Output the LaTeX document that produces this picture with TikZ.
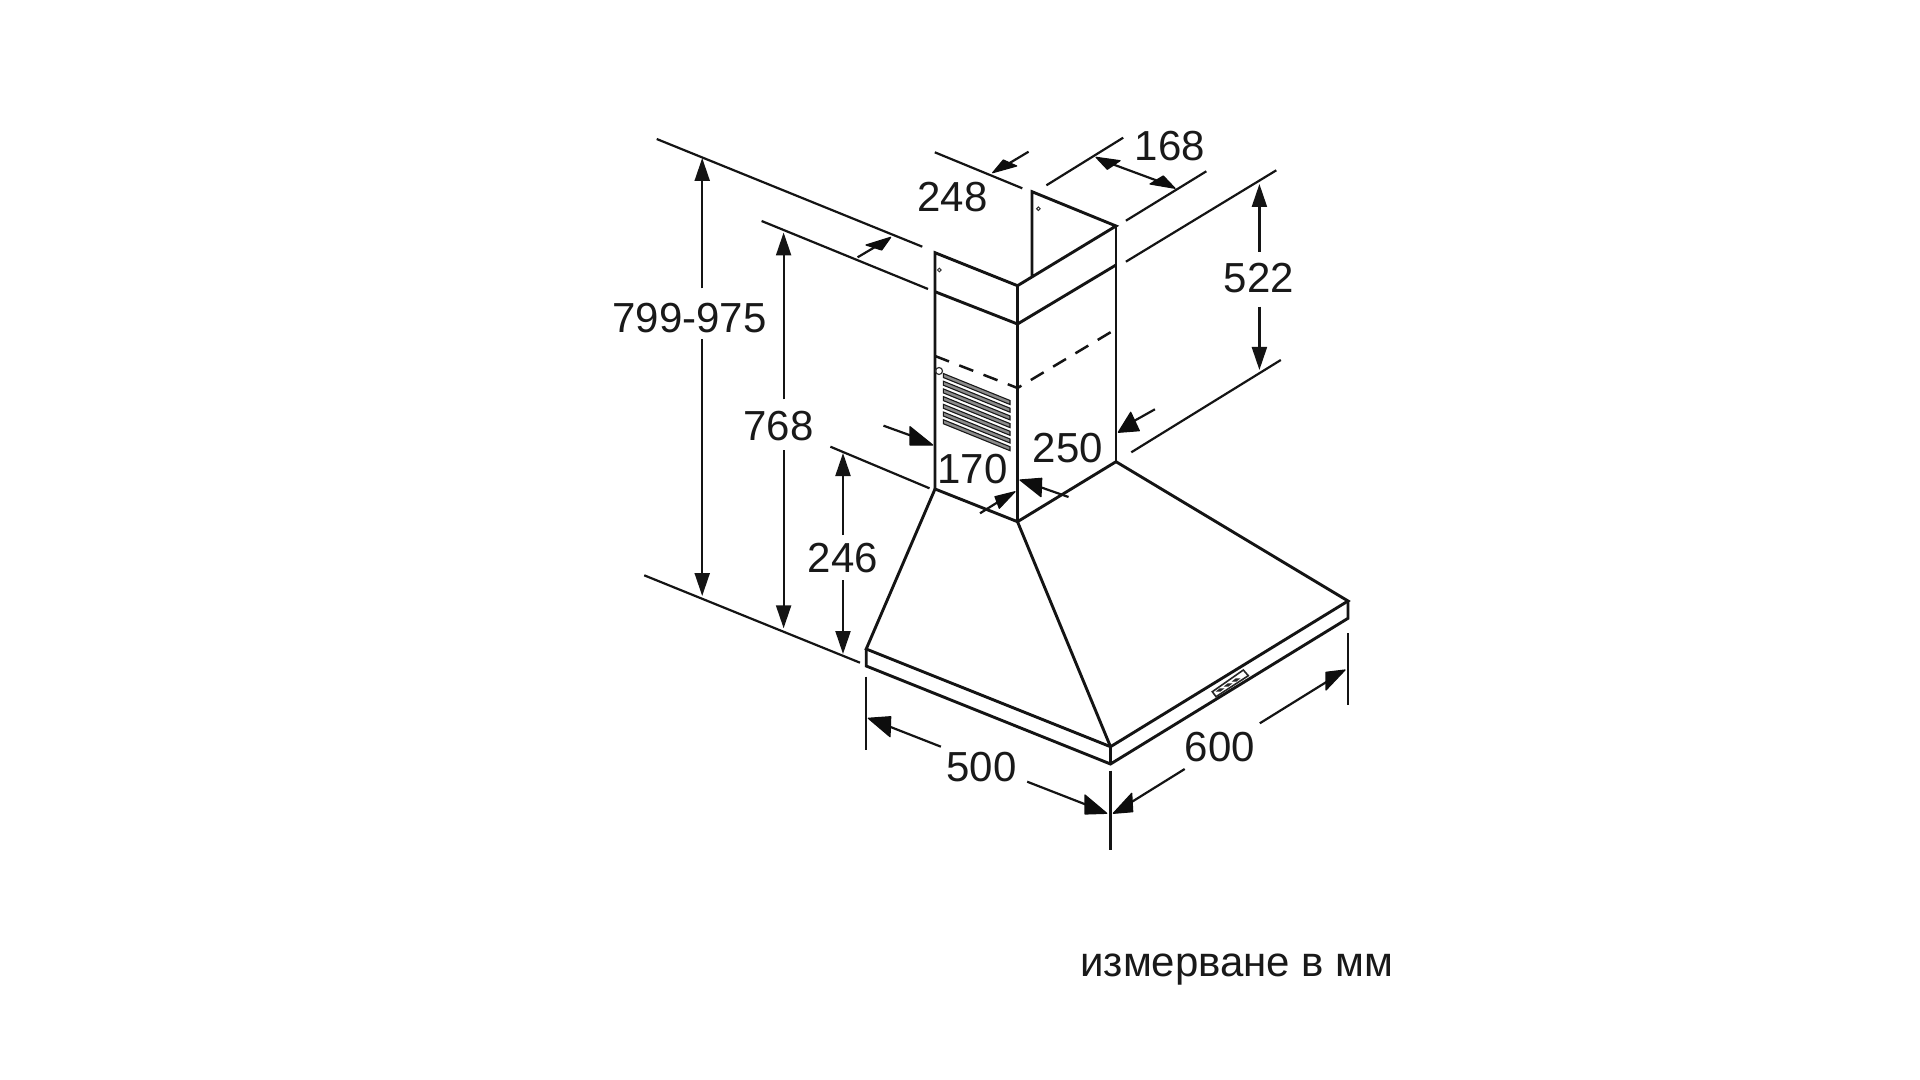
\documentclass[tikz,border=0pt]{standalone}
\usepackage{fontspec}
\setmainfont{Liberation Sans}
\usetikzlibrary{arrows.meta}
\tikzset{
  body/.style={line width=1.45pt,black!92,line join=miter},
  thin body/.style={line width=0.5pt,black!80},
  dim/.style={line width=1.1pt,black!92},
  arr/.style={dim,-{Triangle[length=11.5pt,width=7.5pt]}},
  headfill/.style={fill=black!95,draw=black!95,line width=0.6pt,line join=round},
  slat/.style={fill=black!45,draw=black!90,line width=0.55pt},
  lab/.style={inner sep=0pt,font=\fontsize{21}{24}\selectfont,text=black!90},
  note/.style={inner sep=0pt,font=\fontsize{21}{24}\selectfont,text=black!90}
}
\begin{document}
\begin{tikzpicture}[x=0.5pt,y=-0.5pt]
\useasboundingbox[fill=white] (0,0) rectangle (1920,1080);
% duct
\draw[body] (935,489) -- (935,252.7) -- (1017.5,285.7) -- (1116,226) -- (1032,191.7) -- (1032,275.7);
\draw[body] (1017.5,285.7) -- (1017.5,521.7);
\draw[body] (1116,226) -- (1116,461.7);
\draw[body] (935,291.7) -- (1017.5,324) -- (1116,265);
\draw[body,line width=1.25pt,dash pattern=on 7.5pt off 5.5pt] (935,356) -- (1017.5,388) -- (1116,329);
\draw[thin body] (939.3,270) circle (1.8);
\draw[thin body] (1038.4,208.7) circle (1.8);
\draw[line width=0.6pt,black!80] (939,371) circle (3.5);
% grille
\foreach \i in {0,...,6} {
  \draw[slat] (943.3,373.5+\i*7.7) -- (1010,400.5+\i*7.7) -- (1010,404.5+\i*7.7) -- (943.3,377.5+\i*7.7) -- cycle;
}
% hood
\draw[body] (935,489) -- (1017.5,521.7) -- (1116,461.7) -- (1348,601) -- (1110.5,746.7) -- (866.2,649) -- cycle;
\draw[body] (1017.5,521.7) -- (1110.5,746.7);
\draw[body] (866.2,649) -- (866.2,666) -- (1110.5,764) -- (1348,618.3) -- (1348,601);
\draw[body] (1110.5,746.7) -- (1110.5,764);
% panel
\draw[line width=0.8pt,black!85] (1212.3,691.7) -- (1243.3,670) -- (1248.3,675.7) -- (1216,696.7) -- cycle;
\foreach \p in {(1220,690),(1228,685),(1236,680)} {
  \draw[line width=0.7pt,black!85,shift={\p}] (-2.5,1) -- (0,-1) -- (2.5,-1) -- (0,1) -- cycle;
}
% extension lines
\draw[dim] (656.7,139) -- (922.3,246.7);
\draw[dim] (761.6,221) -- (928,289);
\draw[dim] (830.4,446.7) -- (929.5,488.3);
\draw[dim] (644.2,575.3) -- (860,662.7);
\draw[dim] (934.8,152.3) -- (1022.3,188.3);
\draw[dim] (1046.4,185.3) -- (1123.2,137.7);
\draw[dim] (1125.9,220.7) -- (1206.3,171.3);
\draw[dim] (1125.9,261.7) -- (1276.3,170.3);
\draw[dim] (1131.3,452.3) -- (1280.8,360);
\draw[dim] (866.2,676.7) -- (866.2,750);
\draw[dim] (1110.5,770.7) -- (1110.5,850);
\draw[dim] (1348,633.3) -- (1348,705);
% vertical dimension arrows
\draw[arr] (702.2,288.3) -- (702.2,158);
\draw[arr] (702.2,339.3) -- (702.2,596);
\draw[arr] (783.6,399.3) -- (783.6,232.5);
\draw[arr] (783.6,450) -- (783.6,628.3);
\draw[arr] (843,535) -- (843,453);
\draw[arr] (843,580) -- (843,654);
\draw[arr] (1259.4,251.7) -- (1259.4,184);
\draw[arr] (1259.4,306.7) -- (1259.4,370);
% skewed dimension arrows
\draw[dim] (1028.6,151.7) -- (1008,164);
\fill[headfill] (992.7,172.7) -- (1016.7,166) -- (1003.3,160) -- cycle;
\draw[dim] (857.6,257.3) -- (875,247);
\fill[headfill] (890.7,237.3) -- (866,245) -- (881.7,250) -- cycle;
\draw[dim] (1112,164) -- (1158,181);
\fill[headfill] (1096,157.3) -- (1120,160.7) -- (1107.3,169.3) -- cycle;
\fill[headfill] (1175,188.3) -- (1150,184) -- (1163.3,176) -- cycle;
\draw[dim] (883.5,425.7) -- (912,436);
\fill[headfill] (932.7,445) -- (910,426.7) -- (910,445) -- cycle;
\draw[dim] (980,513.3) -- (998,502);
\fill[headfill] (1015,491.7) -- (995,496.7) -- (999.3,508.3) -- cycle;
\draw[dim] (1154.9,409.3) -- (1134,421);
\fill[headfill] (1118.3,432.3) -- (1139.3,430.7) -- (1130.7,412.3) -- cycle;
\draw[dim] (1068.5,497) -- (1040,487);
\fill[headfill] (1020,480) -- (1041.7,478.3) -- (1041,496.7) -- cycle;
\draw[dim] (940.9,746.7) -- (888,726);
\fill[headfill] (868.3,718.3) -- (890.7,716.7) -- (890,736.7) -- cycle;
\draw[dim] (1027.2,781.7) -- (1087,805);
\fill[headfill] (1106.7,813.3) -- (1085,795) -- (1085,814) -- cycle;
\draw[dim] (1184.7,769) -- (1130,803);
\fill[headfill] (1113.3,813.3) -- (1131.7,793.3) -- (1132.7,811.7) -- cycle;
\draw[dim] (1259.8,723.3) -- (1328,681);
\fill[headfill] (1345,670) -- (1326,672.3) -- (1326,690) -- cycle;
% labels
\node[lab] (t799) at (689.4,318) {799-975};
\node[lab] (t768) at (778.6,426.5) {768};
\node[lab] (t246) at (843,558) {246};
\node[lab] (t248) at (952.6,197.5) {248};
\node[lab] (t168) at (1170,146) {168};
\node[lab] (t522) at (1259,278) {522};
\node[lab] (t250) at (1068,448.5) {250};
\node[lab] (t170) at (972.5,469) {170};
\node[lab] (t500) at (981.5,767) {500};
\node[lab] (t600) at (1220,747.5) {600};
\node[note] (tmm) at (1237,969.5) {измерване в мм};
\end{tikzpicture}
\end{document}
